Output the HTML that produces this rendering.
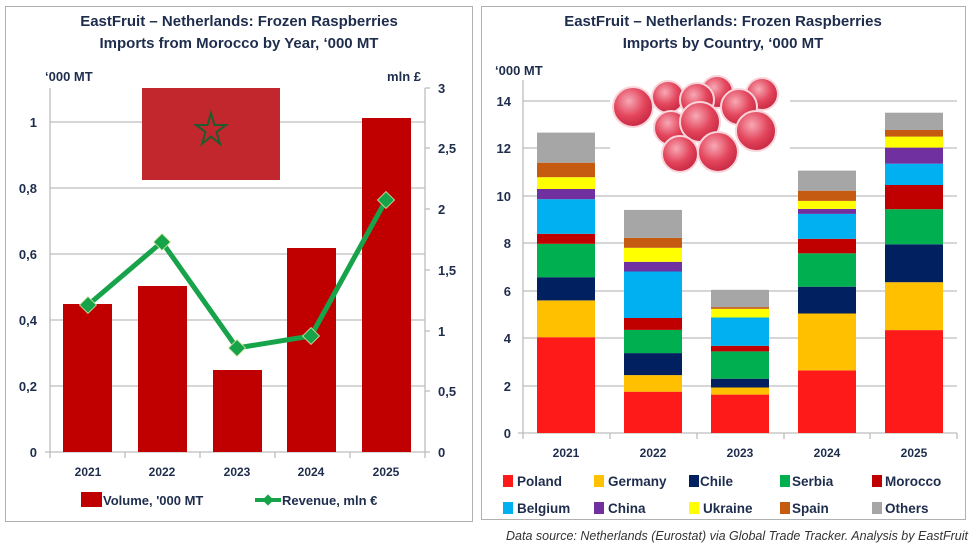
<!DOCTYPE html>
<html><head><meta charset="utf-8"><style>
body{margin:0;background:#fff;width:974px;height:548px;overflow:hidden}
svg{display:block}
text{font-family:"Liberation Sans",sans-serif;fill:#1f2d4d}
</style></head><body>
<svg width="974" height="548" viewBox="0 0 974 548" xmlns="http://www.w3.org/2000/svg">
<defs>
<radialGradient id="rb" cx="40%" cy="35%" r="65%">
<stop offset="0" stop-color="#f7a9b5"/><stop offset="0.6" stop-color="#e3455c"/><stop offset="1" stop-color="#c92a44"/>
</radialGradient>
</defs>
<rect width="974" height="548" fill="#fff"/>
<!-- Left panel -->
<rect x="5.5" y="6.5" width="467" height="515" fill="#fff" stroke="#b0b0b0"/>
<text x="239" y="26" font-size="15" font-weight="bold" text-anchor="middle">EastFruit – Netherlands: Frozen Raspberries</text>
<text x="239" y="48" font-size="15" font-weight="bold" text-anchor="middle">Imports from Morocco by Year, ‘000 MT</text>
<text x="45" y="81" font-size="13" font-weight="bold">‘000 MT</text>
<text x="421" y="81" font-size="13" font-weight="bold" text-anchor="end">mln £</text>
<g stroke="#bdbdbd" stroke-width="1.3">
<line x1="50" y1="122" x2="425" y2="122"/><line x1="50" y1="188" x2="425" y2="188"/>
<line x1="50" y1="254" x2="425" y2="254"/><line x1="50" y1="320" x2="425" y2="320"/>
<line x1="50" y1="386" x2="425" y2="386"/>
<line x1="50" y1="88" x2="50" y2="452"/><line x1="425" y1="88" x2="425" y2="452"/>
<line x1="45" y1="452" x2="430" y2="452"/>
<line x1="425" y1="88" x2="430" y2="88"/><line x1="425" y1="148" x2="430" y2="148"/><line x1="425" y1="209" x2="430" y2="209"/><line x1="425" y1="270" x2="430" y2="270"/><line x1="425" y1="331" x2="430" y2="331"/><line x1="425" y1="391" x2="430" y2="391"/>
<line x1="125" y1="452" x2="125" y2="458"/><line x1="200" y1="452" x2="200" y2="458"/><line x1="275" y1="452" x2="275" y2="458"/><line x1="350" y1="452" x2="350" y2="458"/><line x1="50" y1="452" x2="50" y2="458"/><line x1="425" y1="452" x2="425" y2="458"/>
</g>
<g font-size="13" font-weight="bold" text-anchor="end">
<text x="37" y="127">1</text><text x="37" y="193">0,8</text><text x="37" y="259">0,6</text><text x="37" y="325">0,4</text><text x="37" y="391">0,2</text><text x="37" y="457">0</text>
</g>
<g font-size="13" font-weight="bold">
<text x="438" y="93">3</text><text x="438" y="153">2,5</text><text x="438" y="214">2</text><text x="438" y="275">1,5</text><text x="438" y="336">1</text><text x="438" y="396">0,5</text><text x="438" y="457">0</text>
</g>
<!-- flag -->
<rect x="142" y="88" width="138" height="92" fill="#c1272d"/>
<polygon points="211,113 214.5,125 226,125 216.5,132 220,144 211,136.5 202,144 205.5,132 196,125 207.5,125" fill="none" stroke="#1e5b2d" stroke-width="2"/>
<g fill="#c00000">
<rect x="63" y="304" width="49" height="148"/>
<rect x="138" y="286" width="49" height="166"/>
<rect x="213" y="370" width="49" height="82"/>
<rect x="287" y="248" width="49" height="204"/>
<rect x="362" y="118" width="49" height="334"/>
</g>
<polyline points="88,305 162,242 237,348 311,336 386,200" fill="none" stroke="#17a34a" stroke-width="5"/>
<g fill="#17a34a" stroke="#d9e8a0" stroke-width="0.8">
<rect x="82" y="299" width="12" height="12" transform="rotate(45 88 305)"/>
<rect x="156" y="236" width="12" height="12" transform="rotate(45 162 242)"/>
<rect x="231" y="342" width="12" height="12" transform="rotate(45 237 348)"/>
<rect x="305" y="330" width="12" height="12" transform="rotate(45 311 336)"/>
<rect x="380" y="194" width="12" height="12" transform="rotate(45 386 200)"/>
</g>
<g font-size="12" font-weight="bold" text-anchor="middle">
<text x="88" y="476">2021</text><text x="162" y="476">2022</text><text x="237" y="476">2023</text><text x="311" y="476">2024</text><text x="386" y="476">2025</text>
</g>
<rect x="81" y="492" width="21" height="15" fill="#c00000"/>
<text x="103" y="505" font-size="13" font-weight="bold">Volume, '000 MT</text>
<line x1="255" y1="500" x2="281" y2="500" stroke="#17a34a" stroke-width="4"/>
<rect x="264" y="496" width="8" height="8" fill="#17a34a" transform="rotate(45 268 500)"/>
<text x="282" y="505" font-size="13" font-weight="bold">Revenue, mln €</text>

<!-- Right panel -->
<rect x="481.5" y="6.5" width="484" height="513" fill="#fff" stroke="#b0b0b0"/>
<text x="723" y="26" font-size="15" font-weight="bold" text-anchor="middle">EastFruit – Netherlands: Frozen Raspberries</text>
<text x="723" y="48" font-size="15" font-weight="bold" text-anchor="middle">Imports by Country, ‘000 MT</text>
<text x="495" y="75" font-size="13" font-weight="bold">‘000 MT</text>
<g stroke="#bdbdbd" stroke-width="1.3">
<line x1="523" y1="101" x2="957" y2="101"/><line x1="523" y1="148" x2="957" y2="148"/><line x1="523" y1="196" x2="957" y2="196"/><line x1="523" y1="243" x2="957" y2="243"/><line x1="523" y1="291" x2="957" y2="291"/><line x1="523" y1="338" x2="957" y2="338"/><line x1="523" y1="386" x2="957" y2="386"/>
<line x1="523" y1="80" x2="523" y2="433"/><line x1="518" y1="433" x2="957" y2="433"/>
<line x1="610" y1="433" x2="610" y2="439"/><line x1="697" y1="433" x2="697" y2="439"/><line x1="784" y1="433" x2="784" y2="439"/><line x1="870" y1="433" x2="870" y2="439"/><line x1="957" y1="433" x2="957" y2="439"/><line x1="523" y1="433" x2="523" y2="439"/>
</g>
<g font-size="13" font-weight="bold" text-anchor="end">
<text x="511" y="106">14</text><text x="511" y="153">12</text><text x="511" y="201">10</text><text x="511" y="248">8</text><text x="511" y="296">6</text><text x="511" y="343">4</text><text x="511" y="391">2</text><text x="511" y="438">0</text>
</g>
<!-- raspberries -->
<rect x="610" y="75" width="180" height="102" fill="#fff"/>
<g fill="url(#rb)" stroke="#f9d5db" stroke-width="2">
<circle cx="633" cy="107" r="20"/><circle cx="668" cy="97" r="16"/><circle cx="717" cy="92" r="16"/><circle cx="762" cy="94" r="16"/>
<circle cx="697" cy="100" r="17"/><circle cx="739" cy="107" r="18"/><circle cx="671" cy="128" r="17"/>
<circle cx="756" cy="131" r="20"/><circle cx="700" cy="122" r="20"/><circle cx="680" cy="154" r="18"/><circle cx="718" cy="152" r="20"/>
</g>
<g font-size="12" font-weight="bold" text-anchor="middle">
<text x="566" y="457">2021</text><text x="653" y="457">2022</text><text x="740" y="457">2023</text><text x="827" y="457">2024</text><text x="914" y="457">2025</text>
</g>
<g font-size="13.5" font-weight="bold">
<rect x="503" y="475" width="10" height="12" fill="#ff1a1a"/><text x="517" y="486">Poland</text>
<rect x="594" y="475" width="10" height="12" fill="#ffc000"/><text x="608" y="486">Germany</text>
<rect x="689" y="475" width="10" height="12" fill="#002060"/><text x="700" y="486">Chile</text>
<rect x="780" y="475" width="10" height="12" fill="#00b050"/><text x="792" y="486">Serbia</text>
<rect x="872" y="475" width="10" height="12" fill="#c00000"/><text x="885" y="486">Morocco</text>
<rect x="503" y="502" width="10" height="12" fill="#00b0f0"/><text x="517" y="513">Belgium</text>
<rect x="594" y="502" width="10" height="12" fill="#7030a0"/><text x="608" y="513">China</text>
<rect x="689" y="502" width="10" height="12" fill="#ffff00"/><text x="703" y="513">Ukraine</text>
<rect x="780" y="502" width="10" height="12" fill="#c55a11"/><text x="792" y="513">Spain</text>
<rect x="872" y="502" width="10" height="12" fill="#a6a6a6"/><text x="885" y="513">Others</text>
</g>
<text x="968" y="540" font-size="12.5" font-style="italic" text-anchor="end" style="fill:#333">Data source: Netherlands (Eurostat) via Global Trade Tracker. Analysis by EastFruit</text>

<!-- stacked bars -->
<g>
<rect x="537" y="337.2" width="58" height="95.8" fill="#ff1a1a"/>
<rect x="537" y="300.4" width="58" height="36.8" fill="#ffc000"/>
<rect x="537" y="277.2" width="58" height="23.2" fill="#002060"/>
<rect x="537" y="243.8" width="58" height="33.4" fill="#00b050"/>
<rect x="537" y="233.8" width="58" height="10" fill="#c00000"/>
<rect x="537" y="199.2" width="58" height="34.6" fill="#00b0f0"/>
<rect x="537" y="189.0" width="58" height="10.2" fill="#7030a0"/>
<rect x="537" y="177.2" width="58" height="11.8" fill="#ffff00"/>
<rect x="537" y="162.7" width="58" height="14.5" fill="#c55a11"/>
<rect x="537" y="132.6" width="58" height="30.1" fill="#a6a6a6"/>
<rect x="624" y="391.7" width="58" height="41.3" fill="#ff1a1a"/>
<rect x="624" y="375.1" width="58" height="16.6" fill="#ffc000"/>
<rect x="624" y="353.1" width="58" height="22" fill="#002060"/>
<rect x="624" y="329.9" width="58" height="23.2" fill="#00b050"/>
<rect x="624" y="318.0" width="58" height="11.9" fill="#c00000"/>
<rect x="624" y="271.5" width="58" height="46.5" fill="#00b0f0"/>
<rect x="624" y="261.8" width="58" height="9.7" fill="#7030a0"/>
<rect x="624" y="247.8" width="58" height="14" fill="#ffff00"/>
<rect x="624" y="237.9" width="58" height="9.9" fill="#c55a11"/>
<rect x="624" y="209.9" width="58" height="28" fill="#a6a6a6"/>
<rect x="711" y="394.6" width="58" height="38.4" fill="#ff1a1a"/>
<rect x="711" y="387.5" width="58" height="7.1" fill="#ffc000"/>
<rect x="711" y="378.7" width="58" height="8.8" fill="#002060"/>
<rect x="711" y="351.4" width="58" height="27.3" fill="#00b050"/>
<rect x="711" y="345.8" width="58" height="5.6" fill="#c00000"/>
<rect x="711" y="317.5" width="58" height="28.3" fill="#00b0f0"/>
<rect x="711" y="308.8" width="58" height="8.7" fill="#ffff00"/>
<rect x="711" y="307.1" width="58" height="1.7" fill="#c55a11"/>
<rect x="711" y="289.8" width="58" height="17.3" fill="#a6a6a6"/>
<rect x="798" y="370.4" width="58" height="62.6" fill="#ff1a1a"/>
<rect x="798" y="313.5" width="58" height="56.9" fill="#ffc000"/>
<rect x="798" y="286.7" width="58" height="26.8" fill="#002060"/>
<rect x="798" y="253.3" width="58" height="33.4" fill="#00b050"/>
<rect x="798" y="238.8" width="58" height="14.5" fill="#c00000"/>
<rect x="798" y="213.9" width="58" height="24.9" fill="#00b0f0"/>
<rect x="798" y="208.9" width="58" height="5" fill="#7030a0"/>
<rect x="798" y="200.9" width="58" height="8" fill="#ffff00"/>
<rect x="798" y="190.7" width="58" height="10.2" fill="#c55a11"/>
<rect x="798" y="170.6" width="58" height="20.1" fill="#a6a6a6"/>
<rect x="885" y="330.1" width="58" height="102.9" fill="#ff1a1a"/>
<rect x="885" y="282.2" width="58" height="47.9" fill="#ffc000"/>
<rect x="885" y="244.3" width="58" height="37.9" fill="#002060"/>
<rect x="885" y="209.2" width="58" height="35.1" fill="#00b050"/>
<rect x="885" y="185.0" width="58" height="24.2" fill="#c00000"/>
<rect x="885" y="163.7" width="58" height="21.3" fill="#00b0f0"/>
<rect x="885" y="147.6" width="58" height="16.1" fill="#7030a0"/>
<rect x="885" y="136.6" width="58" height="11" fill="#ffff00"/>
<rect x="885" y="130.0" width="58" height="6.6" fill="#c55a11"/>
<rect x="885" y="112.7" width="58" height="17.3" fill="#a6a6a6"/>
</g>
</svg>
</body></html>
